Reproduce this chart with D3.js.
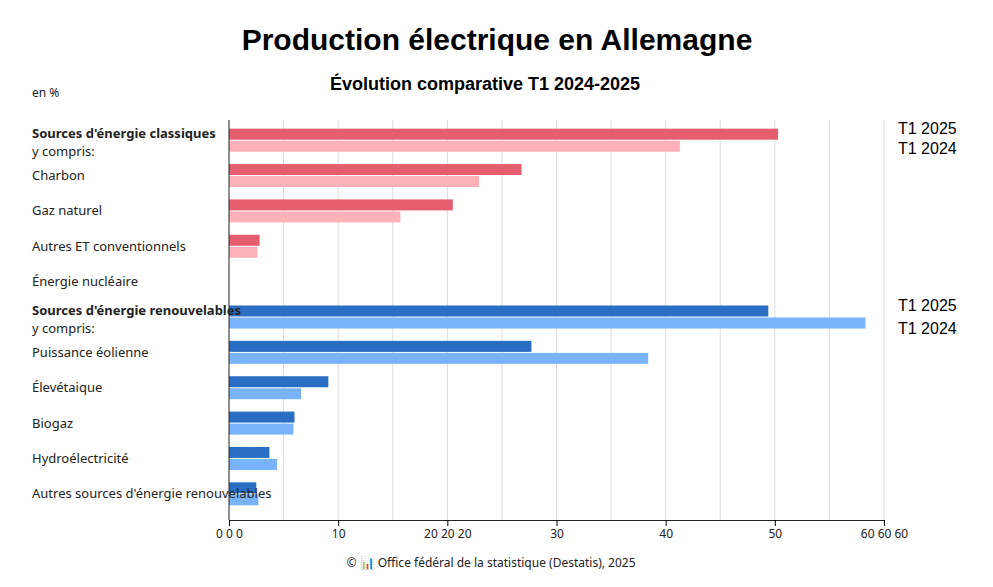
<!DOCTYPE html>
<html><head><meta charset="utf-8">
<script src="https://cdn.jsdelivr.net/npm/d3@7"></script>
<style>
body{margin:0;background:#fff;font-family:"Noto Sans",sans-serif}
</style></head>
<body><svg></svg>
<script>
// data: share of production, % (T1 2025 / T1 2024)
let values = [
  {name: "Sources d'énergie classiques", sub: "y compris:", bold: true, y25: 50.3, y24: 41.3, grp: 'c'},
  {name: "Charbon", y25: 26.8, y24: 22.9, grp: 'c'},
  {name: "Gaz naturel", y25: 20.5, y24: 15.7, grp: 'c'},
  {name: "Autres ET conventionnels", y25: 2.8, y24: 2.6, grp: 'c'},
  {name: "Énergie nucléaire", y25: 0, y24: 0, grp: 'c'},
  {name: "Sources d'énergie renouvelables", sub: "y compris:", bold: true, y25: 49.4, y24: 58.3, grp: 'r'},
  {name: "Puissance éolienne", y25: 27.7, y24: 38.4, grp: 'r'},
  {name: "Élevétaique", y25: 9.1, y24: 6.6, grp: 'r'},
  {name: "Biogaz", y25: 6.0, y24: 5.9, grp: 'r'},
  {name: "Hydroélectricité", y25: 3.7, y24: 4.4, grp: 'r'},
  {name: "Autres sources d'énergie renouvelables", y25: 2.5, y24: 2.7, grp: 'r'}
]
let colors = {c: ['#e55e70', '#feb1b8'], r: ['#2a6ec4', '#78b3fb']}

let width = 993, height = 587
let svg = d3.select('svg').attr('width', width).attr('height', height)

let xScale = d3.scaleLinear().domain([0, 60]).range([229, 884])
let yScale = d3.scaleBand().domain(values.map(d => d.name)).range([123, 512])

// grid
svg.append('g').selectAll('line')
  .data(d3.range(5, 61, 5))
  .enter().append('line')
  .attr('x1', d => xScale(d)).attr('x2', d => xScale(d))
  .attr('y1', 120).attr('y2', 520)
  .attr('stroke', '#dcdcdc')

// bars
let rows = svg.append('g').selectAll('g').data(values).enter().append('g')
  .attr('transform', d => `translate(0,${yScale(d.name) + yScale.bandwidth() / 2})`)
rows.append('rect')
  .attr('x', xScale(0)).attr('y', -12).attr('height', 11)
  .attr('width', d => xScale(d.y25) - xScale(0))
  .attr('fill', d => colors[d.grp][0])
rows.append('rect')
  .attr('x', xScale(0)).attr('y', 0).attr('height', 11)
  .attr('width', d => xScale(d.y24) - xScale(0))
  .attr('fill', d => colors[d.grp][1])

// labels
rows.append('text')
  .attr('x', 32).attr('y', d => d.sub ? -3 : 4)
  .style('font-size', '13px').style('font-weight', d => d.bold ? 'bold' : 'normal')
  .attr('fill', '#222')
  .text(d => d.name)
rows.filter(d => d.sub).append('text')
  .attr('x', 32).attr('y', 15)
  .style('font-size', '13px').attr('fill', '#222')
  .text(d => d.sub)

// y axis line
svg.append('line').attr('x1', 229).attr('x2', 229).attr('y1', 120).attr('y2', 520).attr('stroke', '#222')

// x axis
let xAxis = d3.axisBottom(xScale).tickValues([0, 10, 20, 30, 40, 50, 60]).tickSize(6)
  .tickFormat(d => (d == 0 || d == 20 || d == 60) ? `${d} ${d} ${d}` : d)
let gx = svg.append('g').attr('transform', 'translate(0,520)').call(xAxis)
gx.select('.domain').attr('stroke', '#222')
gx.selectAll('text').style('font-family', '"Noto Sans",sans-serif').style('font-size', '12px').attr('fill', '#222')

// series legend on right
let legendY = [[129, 149], [306, 329]]
legendY.forEach(p => {
  svg.append('text').attr('x', 898).attr('y', p[0] + 5).text('T1 2025')
    .style('font-family', '"Liberation Sans",Arial').style('font-size', '16px')
  svg.append('text').attr('x', 898).attr('y', p[1] + 5).text('T1 2024')
    .style('font-family', '"Liberation Sans",Arial').style('font-size', '16px')
})

// titles
svg.append('text').attr('x', 497).attr('y', 50).attr('text-anchor', 'middle')
  .style('font-family', '"Liberation Sans",Arial').style('font-weight', 'bold').style('font-size', '30px')
  .text('Production électrique en Allemagne')
svg.append('text').attr('x', 485).attr('y', 90).attr('text-anchor', 'middle')
  .style('font-family', '"Liberation Sans",Arial').style('font-weight', 'bold').style('font-size', '18px')
  .text('Évolution comparative T1 2024-2025')
svg.append('text').attr('x', 32).attr('y', 97).style('font-size', '12px').attr('fill', '#222').text('en %')

// source
svg.append('text').attr('x', 491).attr('y', 567).attr('text-anchor', 'middle')
  .style('font-size', '12px').attr('fill', '#222')
  .text('© 📊 Office fédéral de la statistique (Destatis), 2025')
</script>
</body></html>
